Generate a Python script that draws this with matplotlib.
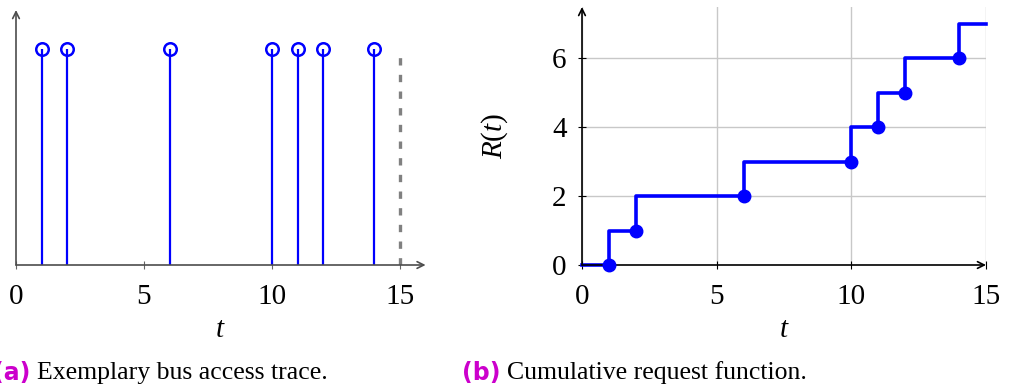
import numpy as np
import matplotlib
matplotlib.use("Agg")
import matplotlib.pyplot as plt

# request times on the bus
access_times = [1, 2, 6, 10, 11, 12, 14]
horizon = 15
xticks = [0, 5, 10, 15]
yticks_r = [0, 2, 4, 6]

blue = "#0000ff"
plt.rcParams["font.family"] = "Liberation Serif"
plt.rcParams["mathtext.fontset"] = "custom"
plt.rcParams["mathtext.rm"] = "Liberation Serif"
plt.rcParams["mathtext.it"] = "Liberation Serif:italic"

W, H = 1009, 392
fig = plt.figure(figsize=(W / 100, H / 100), dpi=100)


def px_axes(x0, x1, y_top, y_bot):
    return fig.add_axes([x0 / W, (H - y_bot) / H, (x1 - x0) / W, (y_bot - y_top) / H])


def arrow_axes(ax, color):
    for s in ax.spines.values():
        s.set_visible(False)
    kw = dict(arrowstyle="->", color=color, lw=1.2, shrinkA=0, shrinkB=0, mutation_scale=12)
    ax.annotate("", xy=(1, 0), xytext=(0, 0), xycoords="axes fraction",
                textcoords="axes fraction", arrowprops=kw, annotation_clip=False)
    ax.annotate("", xy=(0, 1), xytext=(0, 0), xycoords="axes fraction",
                textcoords="axes fraction", arrowprops=kw, annotation_clip=False)


# (a) access trace
ax1 = px_axes(16, 425.6, 10, 265)
ax1.set_xlim(0, 16)
ax1.set_ylim(0, 1.18)
ax1.vlines(access_times, 0, 1, color=blue, lw=1.6, zorder=3)
ax1.plot(access_times, np.ones(len(access_times)), "o", ms=9, mfc="none",
         mec=blue, mew=1.8, clip_on=False, zorder=4)
ax1.plot([horizon, horizon], [0, 1], color="0.5", lw=2.4,
         linestyle=(0, (2.2, 2.8)), zorder=2)
arrow_axes(ax1, "0.3")
ax1.set_xticks(xticks)
ax1.set_yticks([])
ax1.tick_params(axis="x", direction="inout", length=6, width=0.8, color="0.4",
                labelsize=21, pad=11)
ax1.set_xlabel("$t$", fontsize=21, labelpad=5)

# (b) cumulative request function
counts = np.arange(1, len(access_times) + 1)
ax2 = px_axes(582, 986, 7, 265)
ax2.set_xlim(0, horizon)
ax2.set_ylim(0, 7.48)
ax2.grid(True, color="#c8c8c8", lw=1)
ax2.set_axisbelow(True)
ax2.step([0] + access_times + [horizon], [0] + list(counts) + [counts[-1]],
         where="post", color=blue, lw=2.6, zorder=3, clip_on=False)
ax2.plot(access_times, counts - 1, "o", color=blue, ms=9, clip_on=False, zorder=4)
arrow_axes(ax2, "black")
ax2.set_xticks(xticks)
ax2.set_yticks(yticks_r)
ax2.tick_params(axis="x", direction="inout", length=6, width=0.8, labelsize=21, pad=11)
ax2.tick_params(axis="y", direction="inout", length=6, width=0.8, labelsize=21, pad=8)
ax2.set_xlabel("$t$", fontsize=21, labelpad=5)
ax2.set_ylabel("$R(t)$", fontsize=21, labelpad=30)

# captions
mag = "#cc00cc"
for xl, xt, txt in [(30, 37, "Exemplary bus access trace."),
                    (500, 507, "Cumulative request function.")]:
    lab = "(a)" if xl < 100 else "(b)"
    fig.text(xl / W, 1 - 373 / H, lab, ha="right", va="center", color=mag,
             fontsize=17, fontweight="bold", family="DejaVu Sans")
    fig.text(xt / W, 1 - 373 / H, txt, ha="left", va="center", fontsize=18.5)

fig.savefig("out.png", dpi=100)
